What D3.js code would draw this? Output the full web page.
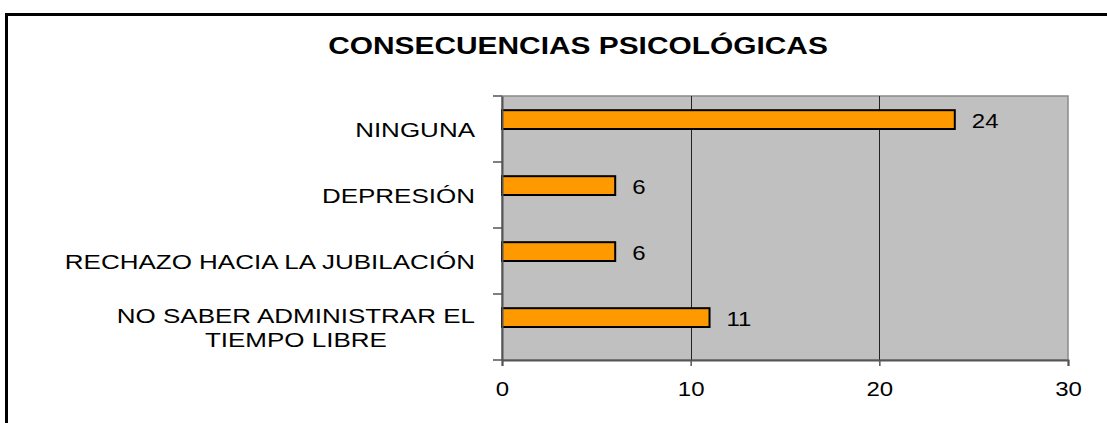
<!DOCTYPE html>
<html>
<head>
<meta charset="utf-8">
<script src="https://cdn.jsdelivr.net/npm/d3@7"></script>
<style>
  body { margin: 0; background: #fff; }
  text { font-family: "Liberation Sans", Arial, sans-serif; fill: #000; }
</style>
</head>
<body>
<div id="chart"></div>
<script>
// data
const categories = ['NINGUNA', 'DEPRESIÓN', 'RECHAZO HACIA LA JUBILACIÓN', 'NO SABER ADMINISTRAR EL|TIEMPO LIBRE']
const values = [24, 6, 6, 11]
const xTicks = [0, 10, 20, 30]
const title = 'CONSECUENCIAS PSICOLÓGICAS'

const width = 1107, height = 423
const plot = { left: 502, right: 1068, top: 96, bottom: 360 }
const stretch = 1.3   // the original text is drawn wide

const svg = d3.select('#chart').append('svg')
  .attr('width', width)
  .attr('height', height)

// outer frame (cut off at right and bottom like the original)
svg.append('path')
  .attr('d', `M6.5,${height + 5}V14.5H${width + 5}`)
  .attr('fill', 'none')
  .attr('stroke', '#000')
  .attr('stroke-width', 3)

svg.append('text')
  .attr('transform', `translate(578,54) scale(${stretch},1)`)
  .attr('text-anchor', 'middle')
  .style('font-size', '23px')
  .style('font-weight', 'bold')
  .text(title)

let x = d3.scaleLinear().domain([0, 30]).range([plot.left, plot.right])
let y = d3.scaleBand().domain(categories).range([plot.top, plot.bottom])

// plot background
svg.append('rect')
  .attr('x', plot.left)
  .attr('y', plot.top)
  .attr('width', plot.right - plot.left)
  .attr('height', plot.bottom - plot.top)
  .attr('fill', '#c0c0c0')
  .attr('stroke', '#8a8a8a')
  .attr('stroke-width', 1.5)

// vertical gridlines
svg.selectAll('.grid')
  .data(xTicks.slice(1, -1))
  .enter()
  .append('line')
  .attr('class', 'grid')
  .attr('x1', (d) => Math.round(x(d)) + 0.5)
  .attr('x2', (d) => Math.round(x(d)) + 0.5)
  .attr('y1', plot.top)
  .attr('y2', plot.bottom)
  .attr('stroke', '#222')
  .attr('stroke-width', 1)

// bars
let barY = (i) => y(categories[i]) + y.bandwidth() * 0.215
let barH = y.bandwidth() * 0.285

svg.selectAll('.bar')
  .data(values)
  .enter()
  .append('rect')
  .attr('class', 'bar')
  .attr('x', x(0))
  .attr('y', (d, i) => barY(i))
  .attr('width', (d) => x(d) - x(0))
  .attr('height', barH)
  .attr('fill', '#ff9900')
  .attr('stroke', '#000')
  .attr('stroke-width', 2)

// value labels
svg.selectAll('.val')
  .data(values)
  .enter()
  .append('text')
  .attr('class', 'val')
  .attr('transform', (d, i) => `translate(${x(d) + 17},${barY(i) + barH / 2 + 8}) scale(1.2,1)`)
  .style('font-size', '20px')
  .text((d) => d)

// axes
let yAxis = svg.append('g')
  .attr('transform', `translate(${plot.left},0)`)
  .call(d3.axisLeft(y).tickSize(0).tickFormat(''))
yAxis.select('.domain').attr('stroke', '#555').attr('stroke-width', 2)

// category boundary ticks
svg.selectAll('.ytick')
  .data(d3.range(categories.length + 1))
  .enter()
  .append('line')
  .attr('class', 'ytick')
  .attr('x1', plot.left - 9)
  .attr('x2', plot.left)
  .attr('y1', (d) => plot.top + d * y.step())
  .attr('y2', (d) => plot.top + d * y.step())
  .attr('stroke', '#555')
  .attr('stroke-width', 1.5)

// category labels
let labels = svg.selectAll('.cat')
  .data(categories)
  .enter()
  .append('text')
  .attr('class', 'cat')
  .attr('text-anchor', 'end')
  .attr('transform', (d) => {
    let lines = d.split('|').length
    let base = y(d) + y.bandwidth() / 2 + 8 - (lines - 1) * 12
    return `translate(475,${base}) scale(${stretch},1)`
  })
  .style('font-size', '20px')

labels.selectAll('tspan')
  .data((d) => d.split('|'))
  .enter()
  .append('tspan')
  .attr('x', 0)
  .attr('dy', (d, i) => i ? 24 : 0)
  .text((d) => d)

// center the lines of the wrapped label on each other
labels.filter((d) => d.includes('|')).each(function() {
  let spans = d3.select(this).selectAll('tspan').nodes()
  let w0 = spans[0].getComputedTextLength()
  d3.select(this).attr('text-anchor', 'middle')
  spans.forEach((s) => d3.select(s).attr('x', -w0 / 2))
})

let xAxis = svg.append('g')
  .attr('transform', `translate(0,${plot.bottom})`)
  .call(d3.axisBottom(x).tickValues(xTicks).tickSize(6).tickPadding(0).tickFormat(d3.format('d')))
xAxis.select('.domain').attr('stroke', '#555').attr('stroke-width', 2)
xAxis.selectAll('.tick line').attr('stroke', '#555').attr('stroke-width', 1.5)
xAxis.selectAll('.tick text')
  .attr('y', null)
  .attr('dy', null)
  .attr('transform', `translate(0,36) scale(1.2,1)`)
  .style('font-family', '"Liberation Sans", Arial, sans-serif')
  .style('font-size', '20px')
  .attr('fill', '#000')
</script>
</body>
</html>
